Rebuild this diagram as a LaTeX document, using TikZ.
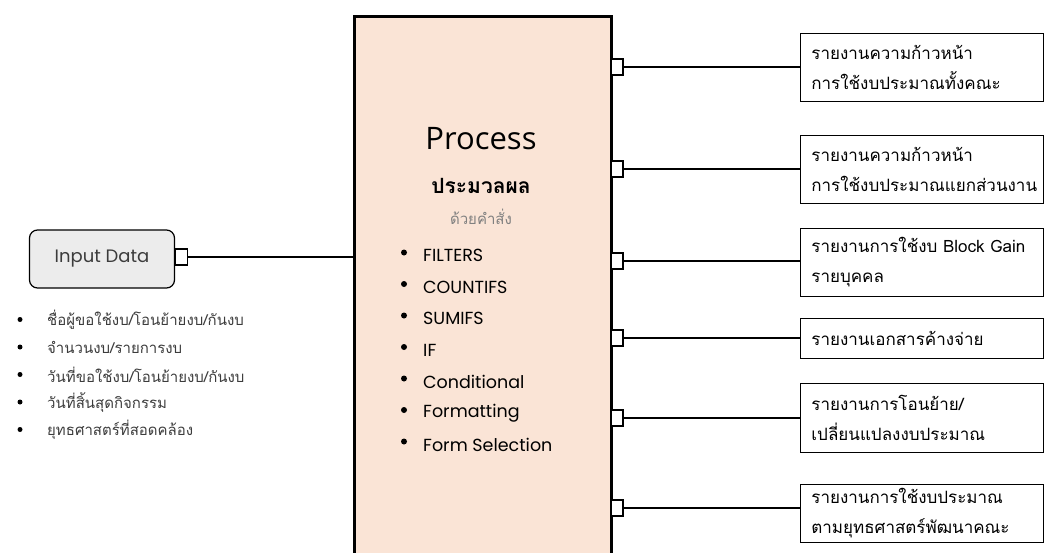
\documentclass[tikz,border=0pt]{standalone}
\usepackage{fontspec}
\newfontfamily\thaifont[Script=Thai]{Loma}
\newfontfamily\latinfont{Poppins}
\newfontfamily\headfont{Open Sans}
\definecolor{procfill}{RGB}{250,228,214}
\definecolor{inputfill}{RGB}{236,236,236}
\definecolor{txtgray}{RGB}{60,60,60}
\tikzset{
	tab/.style={draw,fill=white,line width=1.2pt,minimum width=12pt,minimum height=16pt,inner sep=0pt},
	report/.style={draw,line width=0.8pt,anchor=west,minimum width=243pt,text width=221pt,inner xsep=11pt,inner ysep=0pt,align=left,font=\thaifont\fontsize{17}{30}\selectfont},
	link/.style={line width=1.4pt},
	dot/.style={circle,fill=black,inner sep=0pt,minimum size=#1},
	dot/.default=6pt,
}
\begin{document}
\begin{tikzpicture}[x=1pt,y=-1pt]
			\clip (0,0) rectangle (1045,552);
			\node[draw,line width=2.5pt,fill=procfill,minimum width=257pt,minimum height=560pt,anchor=north west] (proc) at (353,15) {};
			\node[font=\headfont\fontsize{31}{33}\selectfont] (title) at (481,139) {Process};
			\node[font=\thaifont\bfseries\fontsize{21}{24}\selectfont] (sub) at (481,186) {ประมวลผล};
			\node[font=\thaifont\fontsize{15}{17}\selectfont,text=gray] (cmd) at (481,217) {ด้วยคำสั่ง};
			\foreach \fn [count=\i] in {FILTERS,COUNTIFS,SUMIFS,IF,Conditional,Formatting,Form Selection}{
				\node[dot] (dot\i) at (404,221+31.5*\i) {};
				\node[font=\latinfont\fontsize{17.5}{19}\selectfont,anchor=west,inner xsep=0pt] (fn\i) at (423,224+31.5*\i) {\fn};
			}
			\node[draw,rounded corners=8pt,fill=inputfill,line width=1.2pt,minimum width=145pt,minimum height=58pt,font=\latinfont\fontsize{18}{20}\selectfont,text=txtgray] (input) at (102,259) {Input Data};
			\node[tab] (tin) at (181.5,257) {};
			\draw[link] (tin.east) -- (tin.east -| proc.west);
			\foreach \txt [count=\i] in {ชื่อผู้ขอใช้งบ/โอนย้ายงบ/กันงบ,จำนวนงบ/รายการงบ,วันที่ขอใช้งบ/โอนย้ายงบ/กันงบ,วันที่สิ้นสุดกิจกรรม,ยุทธศาสตร์ที่สอดคล้อง}{
				\node[dot=5pt] (blt\i) at (20,292+27.5*\i) {};
				\node[font=\thaifont\fontsize{15}{16}\selectfont,text=txtgray,anchor=west,inner xsep=0pt] (item\i) at (47,292.5+27.5*\i) {\txt};
			}
			\node[report,minimum height=68pt] (r1) at (800,67) {รายงานความก้าวหน้า\\การใช้งบประมาณทั้งคณะ};
			\node[report,minimum height=68pt] (r2) at (800,169) {รายงานความก้าวหน้า\\การใช้งบประมาณแยกส่วนงาน};
			\node[report,minimum height=68pt] (r3) at (800,262) {รายงานการใช้งบ Block Gain\\รายบุคคล};
			\node[report,minimum height=40pt] (r4) at (800,338) {รายงานเอกสารค้างจ่าย};
			\node[report,minimum height=69pt] (r5) at (800,417.5) {รายงานการโอนย้าย/\\เปลี่ยนแปลงงบประมาณ};
			\node[report,minimum height=58pt] (r6) at (800,513) {รายงานการใช้งบประมาณ\\ตามยุทธศาสตร์พัฒนาคณะ};
			\foreach \y [count=\i] in {67,169,261,338,418,508}{
				\node[tab] (t\i) at (617,\y) {};
				\draw[link] (t\i.east) -- (t\i.east -| r\i.west);
			}
		\end{tikzpicture}
\end{document}
